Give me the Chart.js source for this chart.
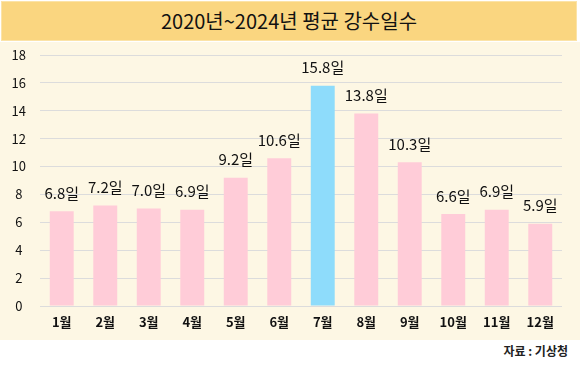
<!DOCTYPE html>
<html><head><meta charset="utf-8">
<script src="https://cdn.jsdelivr.net/npm/chart.js@4/dist/chart.umd.min.js"></script>
<style>
html,body{margin:0;padding:0;background:#fff;width:580px;height:366px;overflow:hidden;font-family:"Noto Sans CJK KR","Noto Sans",sans-serif;}
#title{position:absolute;left:1px;top:1px;width:574px;height:38px;background:#FAD680;border:1px solid #FBE3A8;text-align:center;line-height:38px;font-size:20px;color:#111;}
#area{position:absolute;left:0;top:42px;width:580px;height:298px;background:#FDF7E4;}
#area canvas{display:block;}
#src{position:absolute;right:12px;top:342px;font-size:12px;font-weight:bold;color:#222;}
</style></head>
<body>
<div id="title">2020년~2024년 평균 강수일수</div>
<div id="area"><canvas id="c" width="580" height="298"></canvas></div>
<div id="src">자료 : 기상청</div>
<script>
const categories = ["1월","2월","3월","4월","5월","6월","7월","8월","9월","10월","11월","12월"];
const values = [6.8,7.2,7.0,6.9,9.2,10.6,15.8,13.8,10.3,6.6,6.9,5.9];
const highlightIndex = 6;
const yMax = 18, yStep = 2;

const colors = values.map((v,i)=> i===highlightIndex ? "#8EDCFB" : "#FFCCD8");

const labelPlugin = {
  id:'vlabels',
  afterDatasetsDraw(chart){
    const ctx = chart.ctx;
    const meta = chart.getDatasetMeta(0);
    ctx.save();
    ctx.font = '15px "Noto Sans CJK KR", sans-serif';
    ctx.fillStyle = '#111';
    ctx.textAlign = 'center';
    ctx.textBaseline = 'middle';
    meta.data.forEach((bar,i)=>{
      ctx.fillText(values[i].toFixed(1)+"일", bar.x, bar.y - 18);
    });
    ctx.restore();
  }
};

new Chart(document.getElementById('c'),{
  type:'bar',
  data:{labels:categories,datasets:[{data:values,backgroundColor:colors,borderWidth:0,categoryPercentage:1,barPercentage:0.55}]},
  options:{
    responsive:false,animation:false,
    layout:{padding:{top:13,right:18,left:0,bottom:0}},
    plugins:{legend:{display:false},tooltip:{enabled:false}},
    scales:{
      y:{min:0,max:yMax,ticks:{stepSize:yStep,color:'#111',font:{size:13,family:'"Noto Sans CJK KR", sans-serif'},padding:14,crossAlign:'center'},
         grid:{color:'#DCDCDC',drawTicks:false},border:{display:false},
         afterFit(s){s.width=40;s.paddingTop=0;s.paddingBottom=0;}},
      x:{ticks:{color:'#111',font:{size:13,weight:'bold',family:'"Noto Sans CJK KR", sans-serif'},padding:8},
         grid:{display:false,drawTicks:false},border:{display:false},
         afterFit(s){s.height=34;}}
    }
  },
  plugins:[labelPlugin]
});
</script>
</body></html>
